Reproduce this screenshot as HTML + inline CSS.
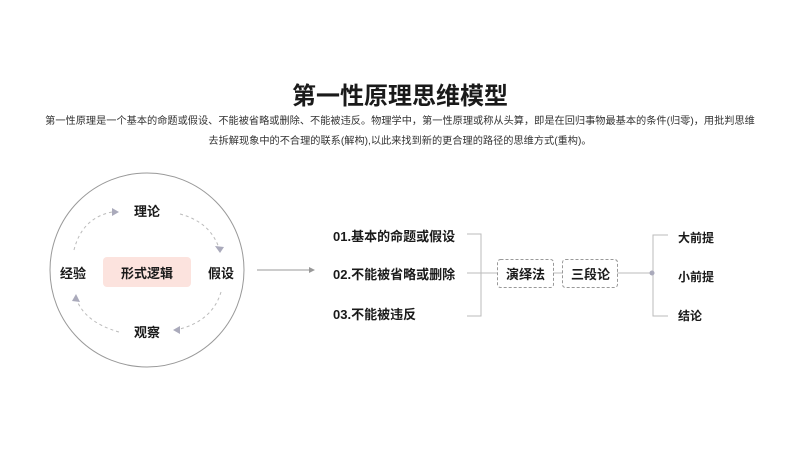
<!DOCTYPE html>
<html><head><meta charset="utf-8"><style>
body{margin:0;width:800px;height:450px;background:#fff;font-family:"Liberation Sans","Noto Sans CJK SC",sans-serif;position:relative;overflow:hidden;color:#1a1a1a}
.t{position:absolute;white-space:nowrap}
</style></head><body>
<div class="t" style="left:0;width:800px;text-align:center;top:76px;font-size:24px;font-weight:bold;">第一性原理思维模型</div>
<div class="t" style="left:0;width:800px;text-align:center;top:112px;font-size:10.2px;line-height:20px;color:#333">第一性原理是一个基本的命题或假设、不能被省略或删除、不能被违反。物理学中，第一性原理或称从头算，即是在回归事物最基本的条件(归零)，用批判思维<br>去拆解现象中的不合理的联系(解构),以此来找到新的更合理的路径的思维方式(重构)。</div>
<svg width="800" height="450" style="position:absolute;left:0;top:0">
<defs><marker id="a" markerWidth="6" markerHeight="6" refX="5" refY="3" orient="auto"><path d="M0,0L6,3L0,6z" fill="#999"/></marker></defs>
<circle cx="147" cy="270" r="97" fill="none" stroke="#999" stroke-width="1"/>
<g fill="none" stroke="#bbb" stroke-dasharray="3,3">
<path d="M74,250 Q82,218 112,212"/><path d="M180,214 Q210,222 219,248"/>
<path d="M221,292 Q212,322 176,330"/><path d="M119,332 Q84,322 76,298"/>
</g>
<g fill="#aab">
<path d="M112,208 L119,212 L112,216z"/><path d="M215,246 L224,247 L220,253z"/>
<path d="M180,326 L173,330 L180,334z"/><path d="M72,301 L76,294 L80,302z"/>
</g>
<line x1="257" y1="270" x2="314" y2="270" stroke="#999" marker-end="url(#a)"/>
<g stroke="#bbb" fill="none">
<path d="M467,234 H481 V316 H467"/><line x1="467" y1="273" x2="497" y2="273"/>
<line x1="553" y1="273" x2="563" y2="273"/><line x1="617" y1="273" x2="652" y2="273"/>
<path d="M668,235 H653 V316 H668"/>
</g>
<circle cx="652" cy="273" r="2.5" fill="#aab"/>
<rect x="497.5" y="259.5" width="56" height="28" rx="3" fill="none" stroke="#999" stroke-dasharray="3,2"/>
<rect x="562.5" y="259.5" width="55" height="28" rx="3" fill="none" stroke="#999" stroke-dasharray="3,2"/>
</svg>
<div class="t" style="left:103px;top:257px;width:88px;height:30px;background:#fce3de;border-radius:4px;"></div>
<div style="font-weight:bold;font-size:13px">
<div class="t" style="left:134px;top:201px">理论</div>
<div class="t" style="left:208px;top:263px">假设</div>
<div class="t" style="left:60px;top:263px">经验</div>
<div class="t" style="left:134px;top:322px">观察</div>
<div class="t" style="left:103px;width:88px;text-align:center;top:263px">形式逻辑</div>
<div class="t" style="left:333px;top:226px">01.基本的命题或假设</div>
<div class="t" style="left:333px;top:264px">02.不能被省略或删除</div>
<div class="t" style="left:333px;top:304px">03.不能被违反</div>
<div class="t" style="left:497px;width:57px;text-align:center;top:264px">演绎法</div>
<div class="t" style="left:563px;width:55px;text-align:center;top:264px">三段论</div>
<div class="t" style="left:678px;top:229px;font-size:12px">大前提</div>
<div class="t" style="left:678px;top:268px;font-size:12px">小前提</div>
<div class="t" style="left:678px;top:307px;font-size:12px">结论</div>
</div>
</body></html>
